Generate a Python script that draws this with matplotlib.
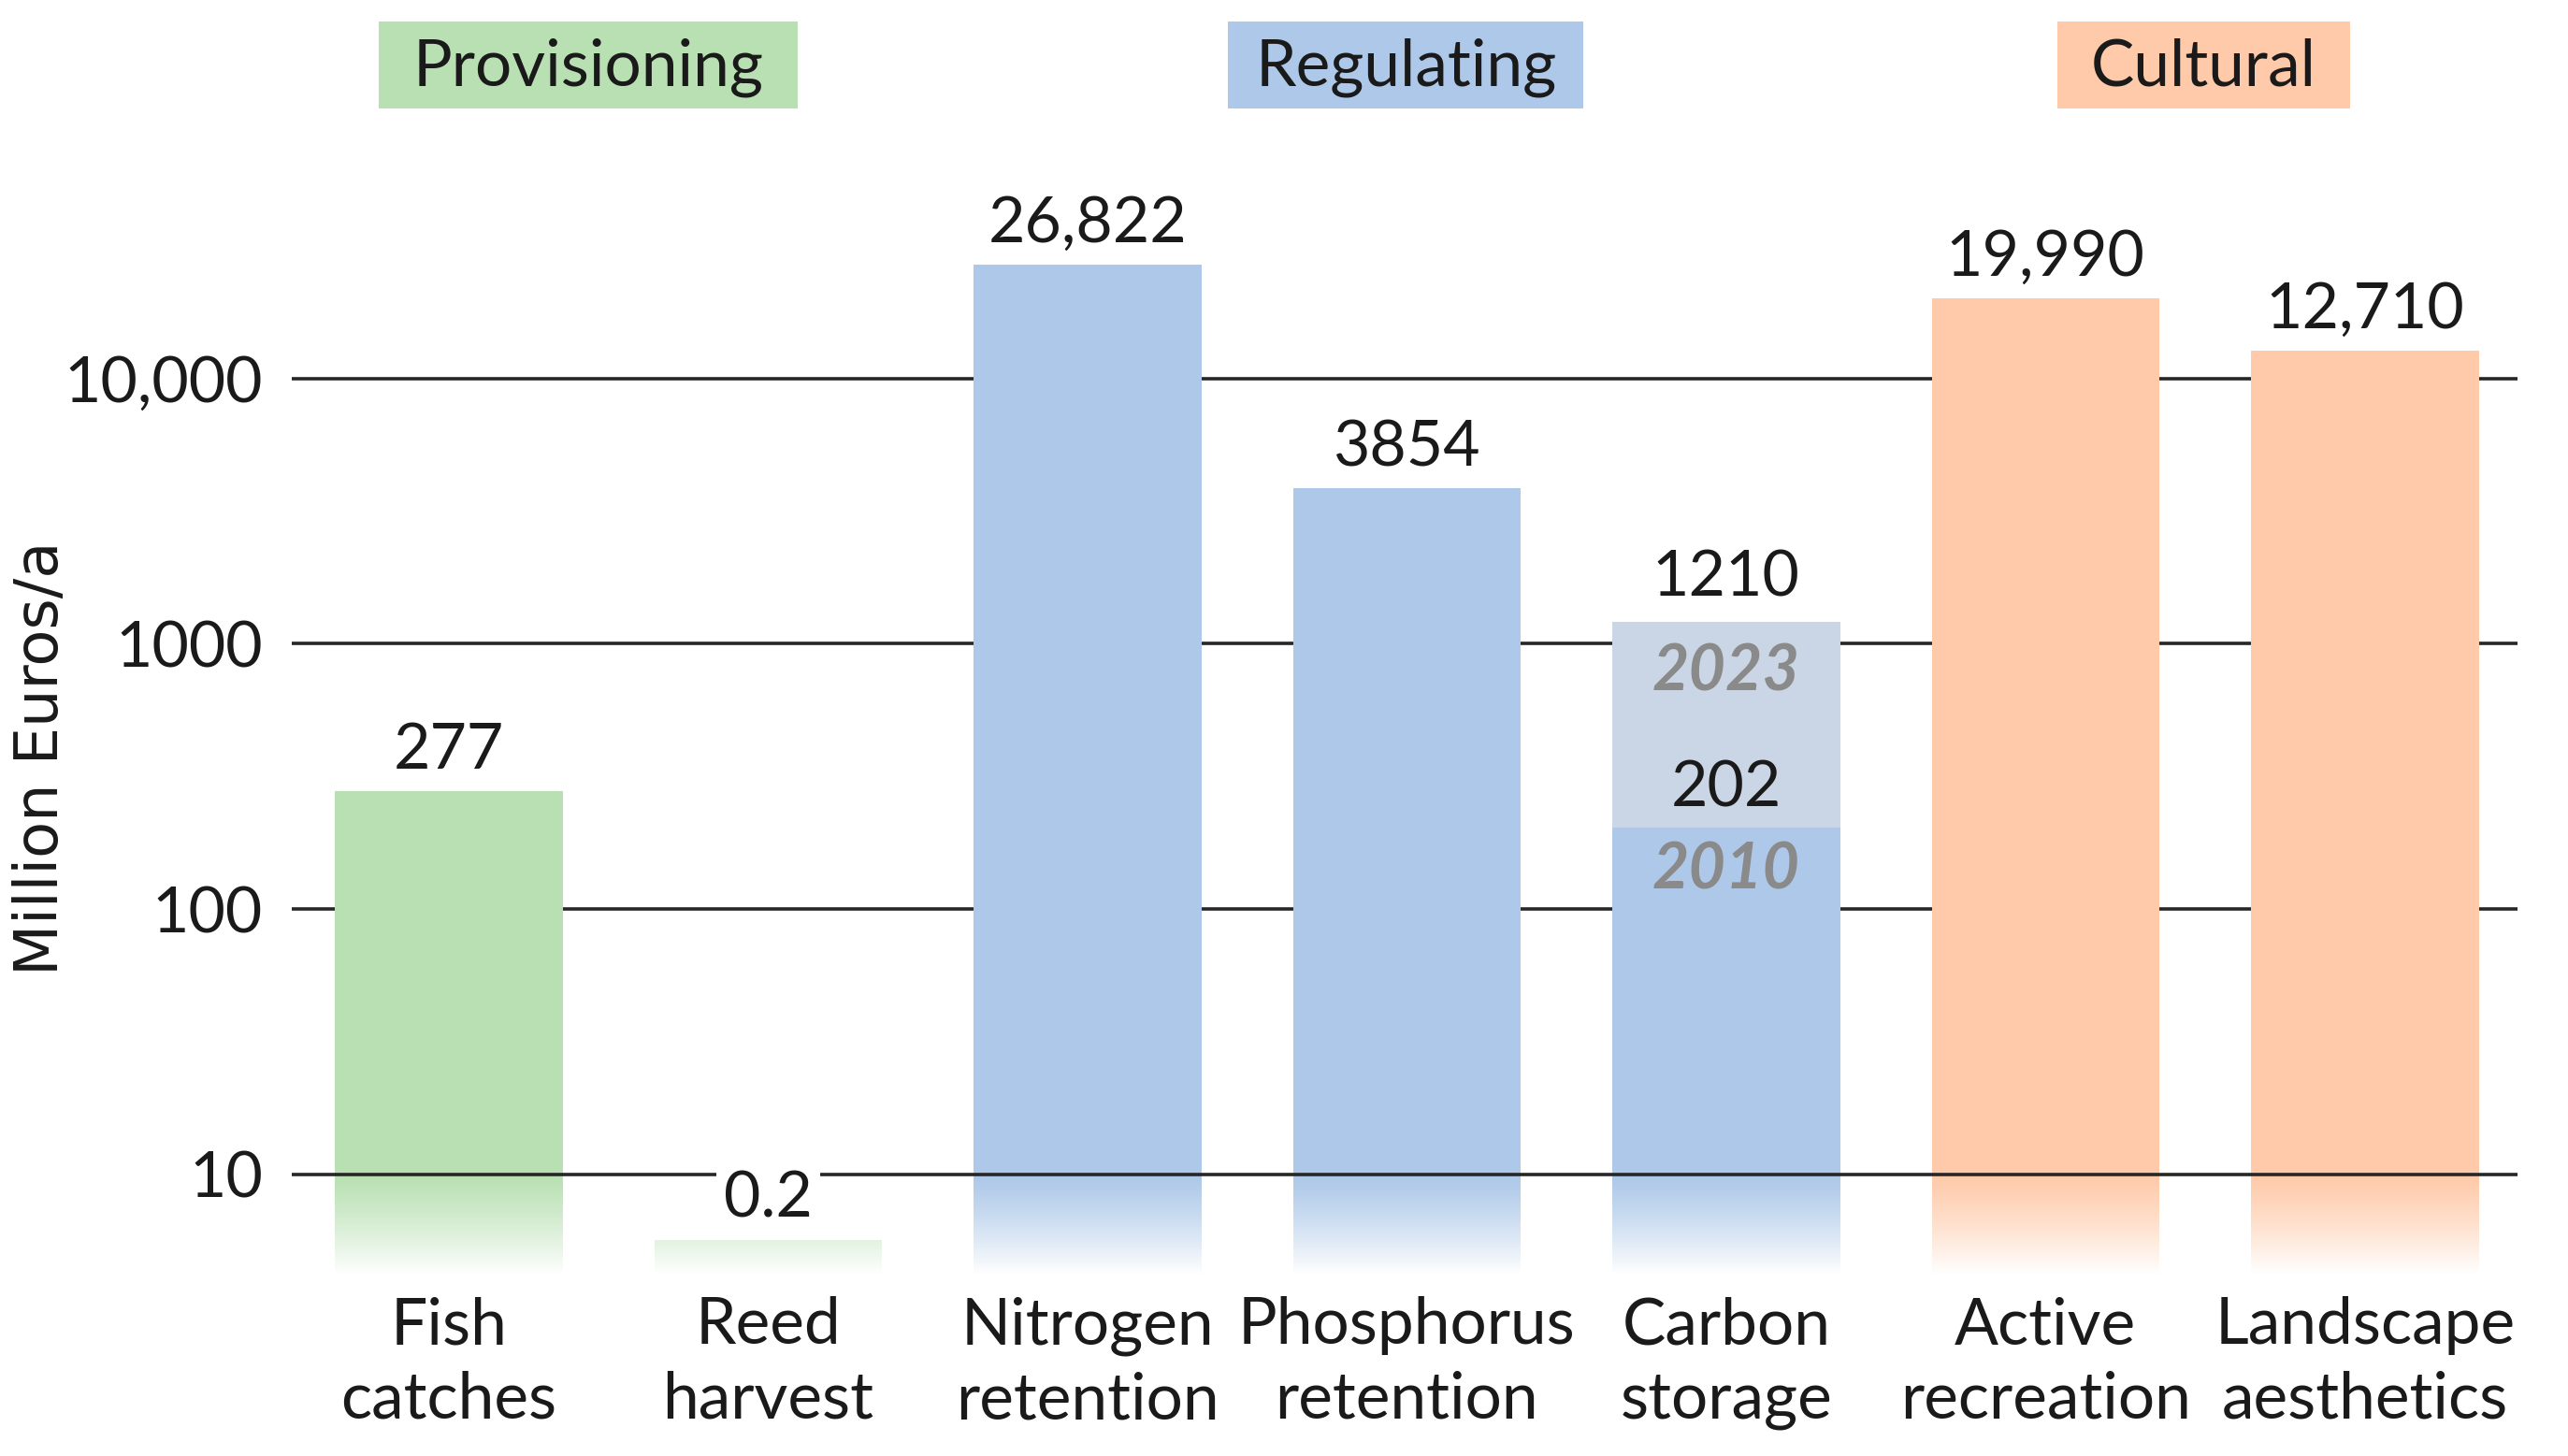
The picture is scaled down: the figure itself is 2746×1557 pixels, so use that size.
import numpy as np
import matplotlib
matplotlib.use("Agg")
import matplotlib.pyplot as plt
from matplotlib.patches import Rectangle
import matplotlib.transforms as mtransforms

# ---------------- data ----------------
services = ["Fish\ncatches", "Reed\nharvest", "Nitrogen\nretention", "Phosphorus\nretention",
            "Carbon\nstorage", "Active\nrecreation", "Landscape\naesthetics"]
values = [277, 0.2, 26822, 3854, 202, 19990, 12710]
value_labels = ["277", "0.2", "26,822", "3854", "202", "19,990", "12,710"]
service_group = ["Provisioning", "Provisioning", "Regulating", "Regulating",
                 "Regulating", "Cultural", "Cultural"]
carbon_2023 = 1210
carbon_2023_label = "1210"
carbon_years = ["2023", "2010"]
groups = ["Provisioning", "Regulating", "Cultural"]
group_colors = {"Provisioning": "#b9e0b3", "Regulating": "#adc8e8", "Cultural": "#fecaa9"}
carbon_2023_color = "#cad6e5"
yticks = [10, 100, 1000, 10000]
ytick_labels = ["10", "100", "1000", "10,000"]
ylabel = "Million Euros/a"

# ---------------- layout ----------------
plt.rcParams["font.family"] = ["Lato", "DejaVu Sans"]
FS = 49
XFS = 50
W, H = 1568.0, 889.0          # reference layout units
fig = plt.figure(figsize=(27.46, 15.57), dpi=100)
fig.patch.set_facecolor("white")

ax_left, ax_right, ax_top, ax_bot = 178, 1537, 95, 778
ax = fig.add_axes([ax_left / W, 1 - ax_bot / H, (ax_right - ax_left) / W, (ax_bot - ax_top) / H])
px_per_dec = 162.0
y10_px = 717.0
ybot = 10 ** (1 - (ax_bot - y10_px) / px_per_dec)
ytop = 10 ** (1 + (y10_px - ax_top) / px_per_dec)
step = 195.0
x0_px = 274.0
xlim = ((ax_left - x0_px) / step, (ax_right - x0_px) / step)
ax.set_xlim(*xlim)
ax.set_yscale("log")
ax.set_ylim(ybot, ytop)
stub_top = 10 ** (1 - (757 - y10_px) / px_per_dec)   # values below the axis floor drawn as a stub

for s in ax.spines.values():
    s.set_visible(False)
ax.set_facecolor("white")

x = np.arange(len(services))
bw = 0.713
label_off = 31

# gridlines behind bars (except baseline 10 which is on top)
for t in yticks:
    ax.axhline(t, color="#262626", lw=2.6, zorder=6 if t == 10 else 1)

for i, (v, g, lab) in enumerate(zip(values, service_group, value_labels)):
    col = group_colors[g]
    top = v if v > ybot else stub_top
    if services[i].startswith("Carbon"):
        ax.bar(i, carbon_2023 - v, bottom=v, width=bw, color=carbon_2023_color, zorder=2, linewidth=0)
    ax.bar(i, top - ybot, bottom=ybot, width=bw, color=col, zorder=2, linewidth=0)
    if services[i].startswith("Carbon"):
        ax.annotate(carbon_2023_label, (i, carbon_2023), xytext=(0, label_off + 2), textcoords="offset points",
                    ha="center", va="center", fontsize=FS, color="#1a1a1a", zorder=8)
        ax.annotate(carbon_years[0], (i, carbon_2023), xytext=(0, -39), textcoords="offset points",
                    ha="center", va="center", fontsize=FS, color="#8a8a8a", fontweight="bold",
                    fontstyle="italic", zorder=8)
        ax.annotate(lab, (i, v), xytext=(0, 30), textcoords="offset points",
                    ha="center", va="center", fontsize=FS, color="#1a1a1a", zorder=8)
        ax.annotate(carbon_years[1], (i, v), xytext=(0, -33), textcoords="offset points",
                    ha="center", va="center", fontsize=FS, color="#8a8a8a", fontweight="bold",
                    fontstyle="italic", zorder=8)
    elif v < ybot:
        ax.annotate(lab, (i, top), xytext=(0, label_off), textcoords="offset points",
                    ha="center", va="center", fontsize=FS, color="#1a1a1a", zorder=8,
                    bbox=dict(boxstyle="square,pad=0.12", fc="white", ec="none"))
    else:
        ax.annotate(lab, (i, top), xytext=(0, label_off), textcoords="offset points",
                    ha="center", va="center", fontsize=FS, color="#1a1a1a", zorder=8)

# white fade below the baseline
N = 400
ys = np.linspace(ybot, 10, N)
alpha = (1 - np.log10(ys)) / (1 - np.log10(ybot))
alpha = np.clip(alpha, 0, 1) ** 1.2
img = np.ones((N, 2, 4))
img[:, :, 3] = alpha[:, None]
ax.imshow(img, extent=(xlim[0], xlim[1], ybot, 10), origin="lower", aspect="auto",
          interpolation="bilinear", zorder=4)
ax.set_xlim(*xlim)
ax.set_ylim(ybot, ytop)

# ticks
ax.set_yticks(yticks)
ax.set_yticklabels(ytick_labels, fontsize=FS, color="#1a1a1a")
ax.yaxis.set_minor_locator(matplotlib.ticker.NullLocator())
ax.tick_params(axis="y", length=0, pad=22)
ax.set_xticks(x)
ax.set_xticklabels(services, fontsize=XFS, color="#1a1a1a", linespacing=1.32)
ax.tick_params(axis="x", length=0, pad=17)

fig.text(25 / W, 1 - 463 / H, ylabel, rotation=90, ha="center", va="center",
         fontsize=46, family="DejaVu Sans", color="#1a1a1a")

# group header boxes
box_spans = {"Provisioning": (231, 487), "Regulating": (750, 967), "Cultural": (1256, 1435)}
trans = mtransforms.blended_transform_factory(ax.transData, fig.transFigure)
for g in groups:
    a, b = box_spans[g]
    xa, xb = (a - x0_px) / step, (b - x0_px) / step
    rect = Rectangle((xa, 1 - 66 / H), xb - xa, 53 / H, transform=trans, facecolor=group_colors[g],
                     edgecolor="none", clip_on=False)
    fig.add_artist(rect)
    t = fig.text(0, 1 - 41 / H, g, transform=trans, ha="center", va="center", fontsize=XFS,
                 color="#1a1a1a")
    t.set_x((xa + xb) / 2)

fig.savefig("out.png", dpi=100, facecolor="white")
